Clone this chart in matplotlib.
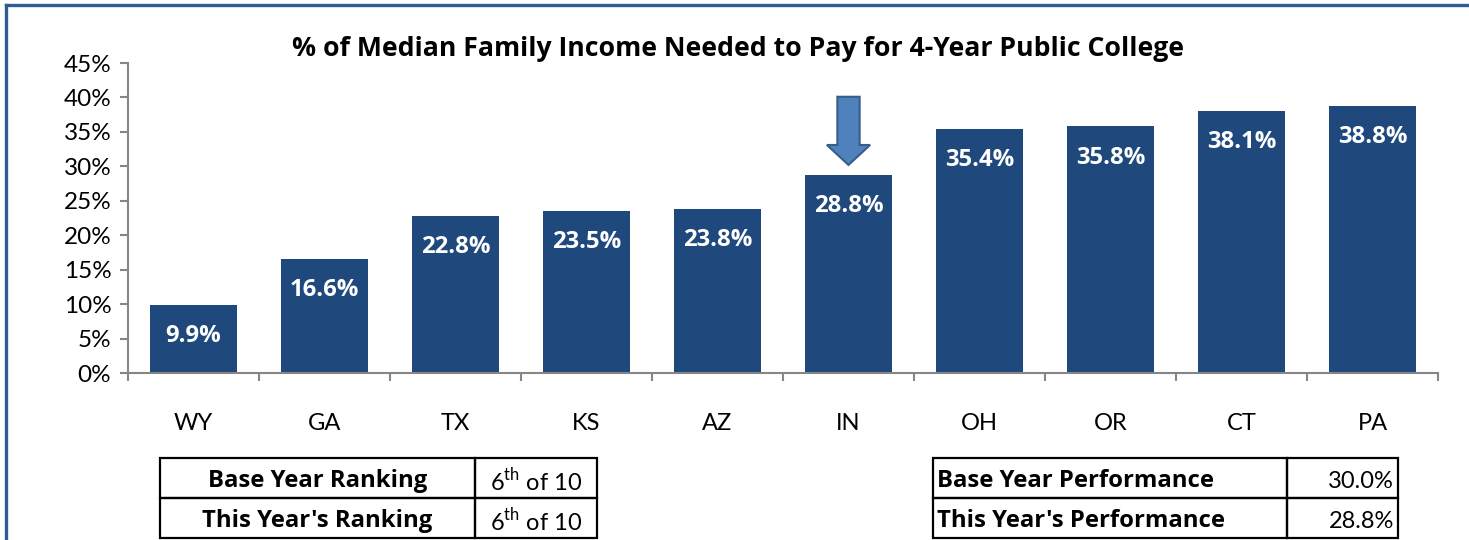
import matplotlib.pyplot as plt
from matplotlib.patches import FancyArrow, Rectangle
from matplotlib.lines import Line2D

plt.rcParams['font.family'] = ['Lato', 'DejaVu Sans']
plt.rcParams['mathtext.fontset'] = 'custom'
plt.rcParams['mathtext.rm'] = 'Lato'
BOLD = ['Open Sans', 'DejaVu Sans']

# ===== DATA =====
states = ["WY", "GA", "TX", "KS", "AZ", "IN", "OH", "OR", "CT", "PA"]
pct_income = [9.9, 16.6, 22.8, 23.5, 23.8, 28.8, 35.4, 35.8, 38.1, 38.8]
highlight = "IN"
y_ticks = [0, 5, 10, 15, 20, 25, 30, 35, 40, 45]

rank_labels = ["Base Year Ranking", "This Year's Ranking"]
rank_values = ["6$^{\\mathrm{th}}$ of 10", "6$^{\\mathrm{th}}$ of 10"]
perf_labels = ["Base Year Performance", "This Year's Performance"]
perf_values = ["30.0%", "28.8%"]

bar_color = "#1f497d"
axis_color = "#868686"

W, H = 1469, 540
fig = plt.figure(figsize=(W / 100, H / 100), dpi=100)
ax = fig.add_axes([128 / W, 167 / H, 1310 / W, 310 / H])

x = list(range(len(states)))
ax.bar(x, pct_income, width=0.66, color=bar_color, zorder=2)

# data labels
for xi, v in zip(x, pct_income):
    ax.annotate(f"{v:.1f}%", (xi, v), xytext=(0, -22.5), textcoords="offset points",
                ha="center", va="center", color="white", fontsize=17.2,
                fontweight="bold", family=BOLD)

# arrow above highlighted bar
hi = states.index(highlight)
hv = pct_income[hi]
ax.add_patch(FancyArrow(hi, hv + 11.3, 0, -9.9, width=0.17, head_width=0.33,
                        head_length=2.9, length_includes_head=True,
                        facecolor="#4f81bd", edgecolor="#385d8a", linewidth=1.5, zorder=3))

ax.set_xlim(-0.5, len(states) - 0.5)
ax.set_ylim(0, 45)
ax.set_yticks(y_ticks)
ax.set_yticklabels([f"{t}%" for t in y_ticks], fontsize=17.5)
ax.set_xticks(x)
ax.set_xticklabels(states, fontsize=17)
ax.set_xticks([i - 0.5 for i in range(len(states) + 1)], minor=True)
ax.tick_params(axis="x", which="major", length=0, pad=29)
ax.tick_params(axis="x", which="minor", length=6, color=axis_color, width=1.5)
ax.tick_params(axis="y", length=6, color=axis_color, width=1.5, pad=6)
for s in ["top", "right"]:
    ax.spines[s].set_visible(False)
for s in ["left", "bottom"]:
    ax.spines[s].set_color(axis_color)
    ax.spines[s].set_linewidth(1.5)

fig.text(738 / W, 1 - 49 / H, "% of Median Family Income Needed to Pay for 4-Year Public College",
         ha="center", va="center", fontsize=19.2, fontweight="bold", family=BOLD)

# outer frame (left and top)
frame = "#2f5b96"
fig.add_artist(Line2D([6 / W, 6 / W], [0, 1 - 5 / H], color=frame, linewidth=2.4))
fig.add_artist(Line2D([6 / W, 1], [1 - 5 / H, 1 - 5 / H], color=frame, linewidth=2.4))


# ===== TABLES =====
def draw_table(x0, xm, x1, labels, values, label_align, value_align):
    rows_y = [458, 498, 538]
    for r in range(2):
        ytop, ybot = rows_y[r], rows_y[r + 1]
        for a, b in [(x0, xm), (xm, x1)]:
            fig.add_artist(Rectangle((a / W, 1 - ybot / H), (b - a) / W, (ybot - ytop) / H,
                                     fill=False, edgecolor="black", linewidth=1.6,
                                     transform=fig.transFigure))
        yc = 1 - ((ytop + ybot) / 2 + 3) / H
        lx = {"center": (x0 + xm) / 2, "left": x0 + 4}[label_align]
        vx = {"center": (xm + x1) / 2, "right": x1 - 4}[value_align]
        fig.text(lx / W, yc, labels[r], ha=label_align, va="center",
                 fontsize=17.2, fontweight="bold", family=BOLD)
        fig.text(vx / W, yc, values[r], ha=value_align, va="center", fontsize=17)


draw_table(160, 475, 597, rank_labels, rank_values, "center", "center")
draw_table(933, 1287, 1398, perf_labels, perf_values, "left", "right")

fig.savefig("out.png", dpi=100)
